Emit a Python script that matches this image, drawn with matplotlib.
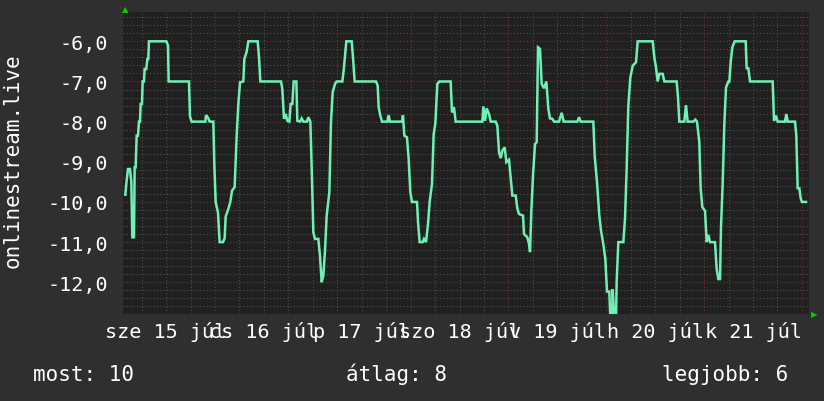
import numpy as np
import matplotlib
matplotlib.use("Agg")
import matplotlib.pyplot as plt

# hours since midnight of 15 Jul, readings
hours = [2.0, 2.24, 2.65, 3.14, 3.47, 3.72, 4.13, 4.29, 4.53, 4.78, 5.11, 5.35, 5.6, 5.76, 6.09,
         6.25, 6.58, 6.74, 7.15, 7.4, 7.64, 7.8, 12.06, 12.47, 12.63, 17.62, 17.86, 18.27, 21.63,
         21.79, 22.28, 22.69, 23.59, 23.83, 24.16, 24.73, 25.14, 25.96, 26.37, 26.62, 27.19, 27.76,
         28.17, 28.82,
         29.32, 29.73, 30.14, 30.95, 31.2, 31.77, 32.18, 34.47, 34.8, 35.13, 40.2, 40.52, 40.93,
         41.34, 41.75, 42.24, 42.57, 42.98, 43.3, 43.96, 44.2, 44.86, 45.27, 45.67, 46.57, 46.9,
         47.39, 47.72, 48.13, 48.54, 49.35, 49.76, 50.17, 50.58, 50.99, 51.4, 52.05, 52.46, 52.87,
         53.44, 53.85, 55.24, 55.57, 55.9, 56.22, 57.53,
         57.86, 58.26, 63.5, 63.91, 64.15, 64.56, 64.97, 66.28, 66.6, 66.93, 69.88, 70.12, 70.45,
         71.1, 71.51, 71.92, 72.33, 73.56, 73.8, 74.21, 74.95, 75.27, 75.77, 76.26, 76.66, 77.24,
         77.65, 78.05, 78.55, 79.04, 81.82, 82.14, 82.63, 83.04,
         89.59, 89.84, 90.25, 90.65, 91.23, 91.64, 92.86, 93.27, 93.68, 94.09, 94.5, 95.07, 95.48,
         96.13, 96.54, 96.95, 97.77, 98.18, 98.59, 99.57, 99.81, 100.63, 101.04, 101.29, 101.61,
         102.02, 102.51, 102.92, 103.25, 103.74, 104.15, 104.72, 105.29, 105.78, 106.19, 106.76,
         107.17, 108.4, 109.05, 109.55, 112.9, 113.31, 113.72,
         116.82, 117.15, 117.72, 118.29, 118.7, 119.27, 119.76, 120.17, 120.74, 120.99, 121.4,
         121.56, 121.97, 122.38, 122.54, 122.95, 124.18, 124.59, 125.0, 125.41, 125.9, 126.47,
         127.29, 127.7, 131.38, 131.79, 132.19, 132.6, 133.01, 133.83, 134.24, 137.26, 137.59,
         137.92, 139.14, 139.55, 139.96, 141.35, 141.84, 142.25, 142.82, 143.15, 143.56, 144.22,
         144.63, 145.03, 145.44, 146.67, 147.08, 147.49, 147.9, 148.14, 148.55, 148.96, 149.37,
         149.94, 150.19, 150.51, 150.92, 151.49, 154.19, 154.44, 154.85, 155.26, 160.82, 161.14,
         161.63, 162.04, 163.84, 164.17, 164.5, 166.3, 166.62, 166.95, 167.36, 167.69, 168.01,
         168.99]
values = [-9.82, -9.55, -9.18, -9.18, -9.5, -10.88, -10.88, -9.14, -9.14, -8.35, -8.35, -8.0, -8.0,
          -7.56, -7.56, -7.0, -7.0, -6.69, -6.69, -6.44, -6.44, -6.0, -6.0, -6.1, -7.0, -7.0, -7.87,
          -8.0, -8.0, -7.84, -7.9, -8.0, -8.0, -9.05, -10.0, -10.26, -11.0, -11.0, -10.9, -10.36,
          -10.2, -10.0, -9.72, -9.63,
          -8.35, -7.56, -7.02, -7.0, -6.44, -6.26, -6.0, -6.0, -6.4, -7.0, -7.0, -7.19, -7.93,
          -7.81, -7.98, -8.0, -7.56, -7.56, -7.0, -7.0, -7.98, -8.0, -7.92, -8.0, -8.0, -7.89,
          -8.0, -9.14, -10.76, -10.92, -10.92, -11.35, -12.0, -11.83, -11.21, -10.34, -9.76, -8.0,
          -7.27, -7.06, -7.0, -7.0, -6.73, -6.36, -6.0, -6.0,
          -6.4, -7.0, -7.0, -7.1, -7.64, -7.85, -8.0, -8.0, -7.84, -8.0, -8.0, -7.84, -8.35,
          -8.39, -8.93, -9.76, -10.0, -10.0, -10.49, -11.0, -11.0, -10.92, -11.0, -10.55, -10.0,
          -9.55, -8.31, -8.06, -7.06, -7.0, -7.0, -7.77, -7.64, -8.0,
          -8.0, -7.62, -7.98, -7.67, -7.81, -8.0, -8.0, -8.1, -8.76, -8.91, -8.72, -8.64, -9.01,
          -8.95, -9.39, -9.84, -9.84, -10.17, -10.3, -10.34, -10.8, -10.88, -11.05, -11.25, -10.22,
          -9.34, -8.56, -8.51, -6.15, -6.19, -7.06, -7.17, -7.0, -7.68, -7.92, -7.93,
          -8.0, -8.0, -7.78, -8.0, -8.0, -7.89, -8.0,
          -8.0, -8.85, -9.51, -10.34, -10.71, -11.05, -11.42, -12.23, -12.23, -12.9, -12.9,
          -12.17, -12.9, -12.9, -12.0, -11.0, -11.0, -10.42, -9.14, -7.6, -6.9, -6.61,
          -6.52, -6.0, -6.0, -6.4, -6.65, -7.0, -6.81, -6.81, -7.0, -7.0, -7.39,
          -8.0, -8.0, -7.59, -8.0, -8.0, -7.95, -8.0, -8.51, -9.66, -10.13, -10.22,
          -11.0, -10.82, -11.0, -11.0, -11.67, -11.92, -11.92, -10.63, -9.55, -8.06, -7.15,
          -7.0, -7.0, -6.52, -6.15, -6.0, -6.0, -6.67, -6.67, -7.0, -7.0, -7.98,
          -7.85, -8.0, -8.0, -7.81, -8.0, -8.0, -8.35, -9.66, -9.66, -9.91, -10.0,
          -10.0]

day_labels = ["sze 15 júl", "cs 16 júl", "p 17 júl", "szo 18 júl",
              "v 19 júl", "h 20 júl", "k 21 júl"]
y_ticks = [-12, -11, -10, -9, -8, -7, -6]
stats = [("most", 10), ("átlag", 8), ("legjobb", 6)]
series_name = "onlinestream.live"

BG = "#2f2f2f"
PLOT_BG = "#202020"
LINE = "#6ff0b4"
MINOR = "#505050"
MAJOR = "#6e3636"

plt.rcParams["font.family"] = ["DejaVu Sans Mono"]

fig = plt.figure(figsize=(8.24, 4.02), dpi=100, facecolor=BG)
ax = fig.add_axes([123 / 824, 87 / 402, 686 / 824, 302 / 402], facecolor=PLOT_BG)

x0, x1 = 1.43, 169.73
y0, y1 = -12.79, -5.27
ax.set_xlim(x0, x1)
ax.set_ylim(y0, y1)

# grid, dotted like rrdtool
dot = dict(lw=0.8, linestyle=(0, (1, 2)), zorder=1)
for h in np.arange(6, x1, 6):
    ax.axvline(h, color=MAJOR if h % 24 == 0 else MINOR, **dot)
for v in np.arange(-12.6, y1, 0.2):
    v = round(v, 1)
    ax.axhline(v, color=MAJOR if v == round(v) else MINOR, **dot)

ax.plot(hours, values, color=LINE, lw=1.8, zorder=3, solid_joinstyle="miter")

ax.set_yticks(y_ticks, [f"{t},0" for t in y_ticks])
ax.set_xticks([12 + 24 * i for i in range(len(day_labels))], day_labels)
ax.tick_params(length=0, colors="white", labelsize=14.5)
ax.tick_params(axis="y", pad=11)
ax.tick_params(axis="x", pad=5)
for s in ax.spines.values():
    s.set_visible(False)

ax.set_ylabel(series_name, color="white", fontsize=15)
ax.yaxis.set_label_coords(-0.147, 0.51)

# axis arrows
fig.text(125 / 824, 1 - 10 / 402, "▲", color="#00cc00", fontsize=6,
         ha="center", va="center", family="DejaVu Sans")
fig.text(814 / 824, 1 - 315 / 402, "▶", color="#00cc00", fontsize=6,
         ha="center", va="center", family="DejaVu Sans")

xs = [33, 346, 662]
for (name, val), x in zip(stats, xs):
    fig.text(x / 824, 1 - 381 / 402, f"{name}: {val}", color="white",
             fontsize=15, ha="left", va="baseline")

fig.savefig("out.png", dpi=100, facecolor=BG)
